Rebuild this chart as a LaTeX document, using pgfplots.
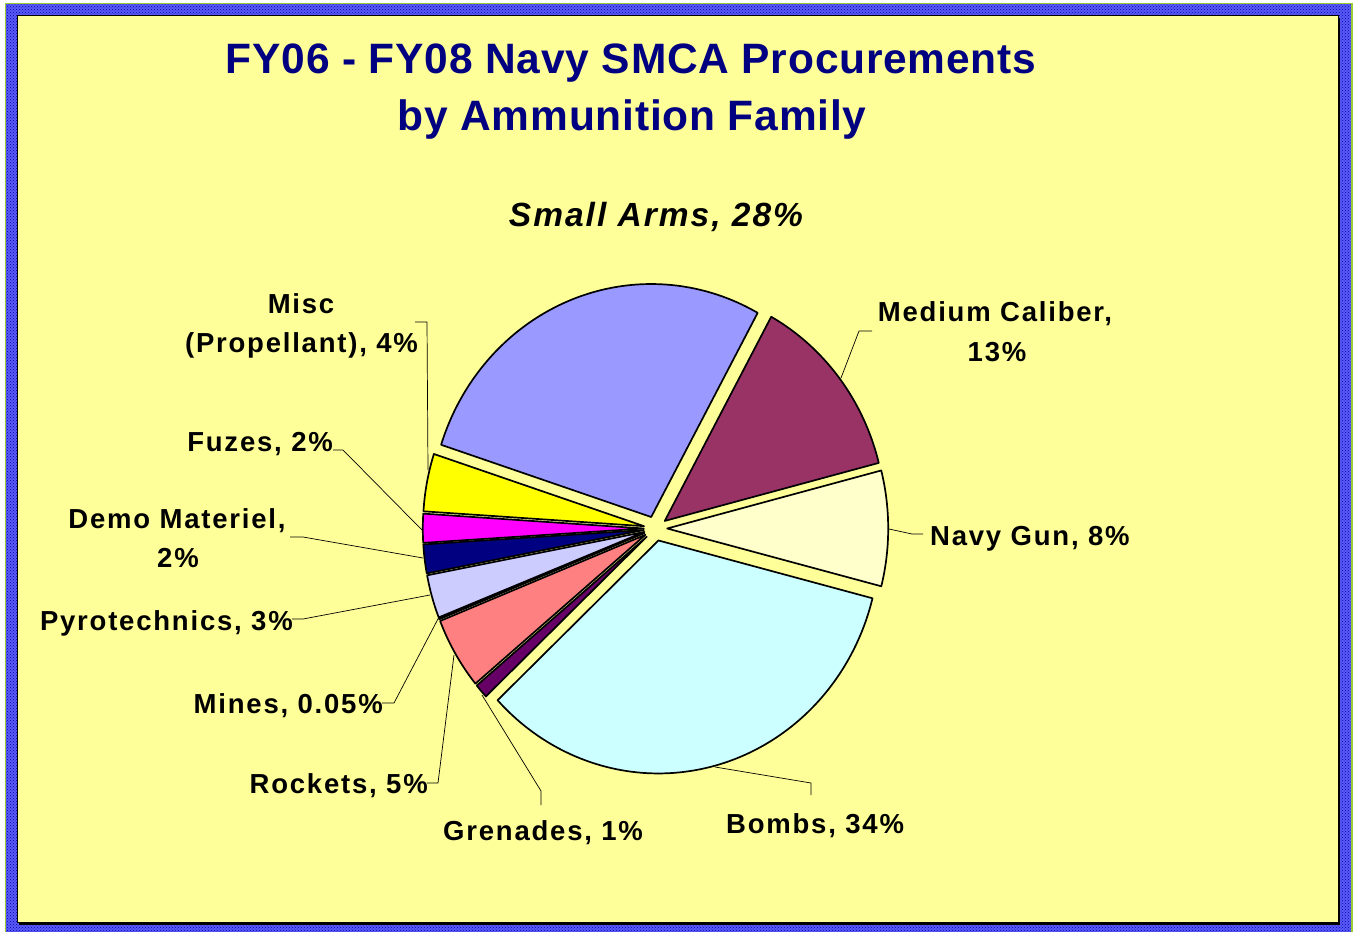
\documentclass[border=0pt]{standalone}
\usepackage{pgfplots}
\pgfplotsset{compat=1.18}
\usepackage{fontspec}
\setmainfont{Liberation Sans}
\newfontfamily\titlefont[LetterSpace=1.8]{Liberation Sans}
\newfontfamily\labfont[LetterSpace=6.5]{Liberation Sans}
\newfontfamily\safont[LetterSpace=6]{Liberation Sans}
\usetikzlibrary{patterns}
\definecolor{bg}{HTML}{FFFF99}
\definecolor{frameblue}{HTML}{5A5AF5}
\definecolor{framegreen}{HTML}{99CC33}
\definecolor{titleblue}{HTML}{000080}
\definecolor{cmed}{HTML}{993366}
\definecolor{cnavy}{HTML}{FFFFCC}
\definecolor{cbomb}{HTML}{CCFFFF}
\definecolor{cgren}{HTML}{660066}
\definecolor{crock}{HTML}{FF8080}
\definecolor{cmine}{HTML}{0066CC}
\definecolor{cpyro}{HTML}{CCCCFF}
\definecolor{cdemo}{HTML}{000080}
\definecolor{cfuze}{HTML}{FF00FF}
\definecolor{cmisc}{HTML}{FFFF00}
\definecolor{csarm}{HTML}{9999FF}
% pie geometry (pixel units of the picture)
\def\cx{655.5}\def\cy{528.5}\def\rx{221}\def\ry{233}
\def\ex{11.7}\def\ey{12.35}
\def\startang{61.2}
\def\total{100.05}
\gdef\cum{0}
\newcommand\slice[2]{%
  \pgfmathsetmacro\kk{360/\total}%
  \pgfmathsetmacro\aA{\startang-\cum*\kk}%
  \pgfmathsetmacro\newcum{\cum+#1}%
  \xdef\cum{\newcum}%
  \pgfmathsetmacro\aB{\startang-\cum*\kk}%
  \pgfmathsetmacro\aM{(\aA+\aB)/2}%
  \pgfmathsetmacro\ox{\cx+\ex*cos(\aM)}%
  \pgfmathsetmacro\oy{\cy-\ey*sin(\aM)}%
  \edef\temp{\noexpand\addplot[draw=black, line width=1.7pt, fill=#2, line join=round, domain=\aB:\aA, samples=90, variable=\noexpand\t] ({\ox+\rx*cos(\noexpand\t)},{\oy-\ry*sin(\noexpand\t)}) -- (axis cs:\ox,\oy) -- cycle;}%
  \temp
}
\begin{document}
\begin{tikzpicture}[x=1pt,y=1pt]
\useasboundingbox (0,0) rectangle (1353,932);
\fill[white] (0,0) rectangle (1353,932);
\fill[frameblue] (6,0) rectangle (1351,928);
\fill[pattern=crosshatch dots, pattern color=blue!70!black] (6,0) rectangle (1351,928);
\draw[framegreen, line width=1.5pt] (5.5,0) -- (5.5,928.5) -- (1352,928.5) -- (1352,0);
\fill[black] (19,7) rectangle (1340,914);
\fill[bg] (17,9) rectangle (1338,916);
\draw[black, line width=1pt] (17,9) rectangle (1338,916);
\begin{axis}[
  at={(0,0)}, anchor=south west,
  width=1353pt, height=932pt, scale only axis,
  xmin=0, xmax=1353, ymin=0, ymax=932, y dir=reverse,
  hide axis, clip=false,
]
\slice{13}{cmed}
\slice{8}{cnavy}
\slice{34}{cbomb}
\slice{1}{cgren}
\slice{5}{crock}
\slice{0.05}{cmine}
\slice{3}{cpyro}
\slice{2}{cdemo}
\slice{2}{cfuze}
\slice{4}{cmisc}
\slice{28}{csarm}
% leader lines
\addplot[black, line width=0.7pt, no marks] coordinates {(841,378) (859,331) (872,331)};
\addplot[black, line width=0.7pt, no marks] coordinates {(889,529) (912,534) (923,534)};
\addplot[black, line width=0.7pt, no marks] coordinates {(715,767) (811,783) (811,795)};
\addplot[black, line width=0.7pt, no marks] coordinates {(482,695) (541,791) (541,805)};
\addplot[black, line width=0.7pt, no marks] coordinates {(454,655) (438,783) (427,783)};
\addplot[black, line width=0.7pt, no marks] coordinates {(439,617) (394,703) (382,703)};
\addplot[black, line width=0.7pt, no marks] coordinates {(430,595) (303,619) (292,619)};
\addplot[black, line width=0.7pt, no marks] coordinates {(423,558) (303,537) (290,537)};
\addplot[black, line width=0.7pt, no marks] coordinates {(422,530) (343,450) (333,450)};
\addplot[black, line width=0.7pt, no marks] coordinates {(428,470) (427,322) (415,322)};
% title
\node[anchor=base, text=titleblue, font=\titlefont\bfseries\fontsize{42.5}{50}\selectfont, inner sep=0pt] at (axis cs:631,73.3) {FY06 - FY08 Navy SMCA Procurements};
\node[anchor=base, text=titleblue, font=\titlefont\bfseries\fontsize{42.5}{50}\selectfont, inner sep=0pt] at (axis cs:632,130.5) {by Ammunition Family};
% labels
\node[anchor=base, font=\safont\bfseries\itshape\fontsize{33.5}{40}\selectfont, inner sep=0pt] at (axis cs:656,226.7) {Small Arms, 28\%};
\tikzset{lab/.style={font=\labfont\bfseries\fontsize{27.5}{32}\selectfont, inner sep=0pt}}
\node[lab, anchor=base] at (axis cs:995,321.7) {Medium Caliber,};
\node[lab, anchor=base] at (axis cs:997,361.7) {13\%};
\node[lab, anchor=base west] at (axis cs:930,545) {Navy Gun, 8\%};
\node[lab, anchor=base west] at (axis cs:726,833) {Bombs, 34\%};
\node[lab, anchor=base west] at (axis cs:443,840) {Grenades, 1\%};
\node[lab, anchor=base east] at (axis cs:428,793.3) {Rockets, 5\%};
\node[lab, anchor=base east] at (axis cs:383,713) {Mines, 0.05\%};
\node[lab, anchor=base east] at (axis cs:293,630) {Pyrotechnics, 3\%};
\node[lab, anchor=base] at (axis cs:177,528.3) {Demo Materiel,};
\node[lab, anchor=base] at (axis cs:178,567.3) {2\%};
\node[lab, anchor=base east] at (axis cs:333,451.7) {Fuzes, 2\%};
\node[lab, anchor=base] at (axis cs:301,313.3) {Misc};
\node[lab, anchor=base] at (axis cs:301.5,352.7) {(Propellant), 4\%};
\end{axis}
\end{tikzpicture}
\end{document}
